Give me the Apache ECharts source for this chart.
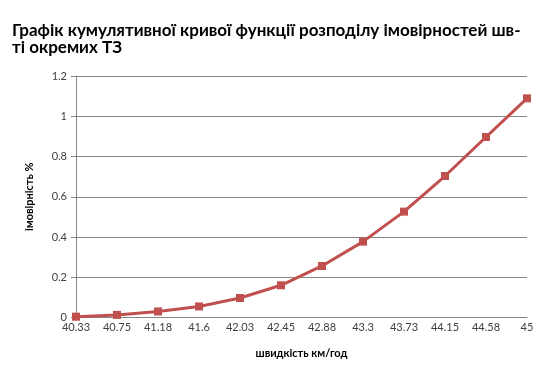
<!DOCTYPE html>
<html><head><meta charset="utf-8">
<script src="https://cdn.jsdelivr.net/npm/echarts@6/dist/echarts.min.js"></script>
<style>html,body{margin:0;padding:0;background:#fff}#c{width:545px;height:379px}</style>
</head><body><div id="c"></div>
<script>
const categories = ['40.33','40.75','41.18','41.6','42.03','42.45','42.88','43.3','43.73','44.15','44.58','45'];
const values = [0.004,0.013,0.03,0.055,0.097,0.16,0.256,0.377,0.526,0.703,0.897,1.089];
const titleText = 'Графік кумулятивної кривої функції розподілу імовірностей шв-\nті окремих ТЗ';
const chart = echarts.init(document.getElementById('c'));
chart.setOption({
  animation:false,
  title:{text:titleText,left:7,top:17,textStyle:{fontFamily:'Lato',fontWeight:'bold',fontSize:17,color:'#000',lineHeight:17}},
  grid:{left:76,right:18,top:76,bottom:61.5},
  xAxis:{type:'category',data:categories,boundaryGap:false,
    name:'швидкість км/год',nameLocation:'middle',nameGap:30,
    nameTextStyle:{fontFamily:'Lato',fontWeight:'bold',fontSize:11,color:'#000'},
    axisLine:{lineStyle:{color:'#868686',width:1}},
    axisTick:{show:false},
    axisLabel:{fontFamily:'Lato',fontSize:11,color:'#404040',margin:4,interval:0}},
  yAxis:{type:'value',min:0,max:1.2,interval:0.2,
    name:'імовірність %',nameLocation:'middle',nameGap:41,
    nameTextStyle:{fontFamily:'Lato',fontWeight:'bold',fontSize:11,color:'#000'},
    axisLine:{show:true,lineStyle:{color:'#868686',width:1}},
    axisTick:{show:true,length:5,lineStyle:{color:'#868686'}},
    axisLabel:{fontFamily:'Lato',fontSize:11,color:'#404040',margin:9,formatter:v=>String(+v.toFixed(1))},
    splitLine:{lineStyle:{color:'#868686',width:1}}},
  series:[{type:'line',data:values,symbol:'rect',symbolSize:8,
    lineStyle:{color:'#C0504D',width:3},itemStyle:{color:'#C0504D'}}]
});
</script></body></html>
